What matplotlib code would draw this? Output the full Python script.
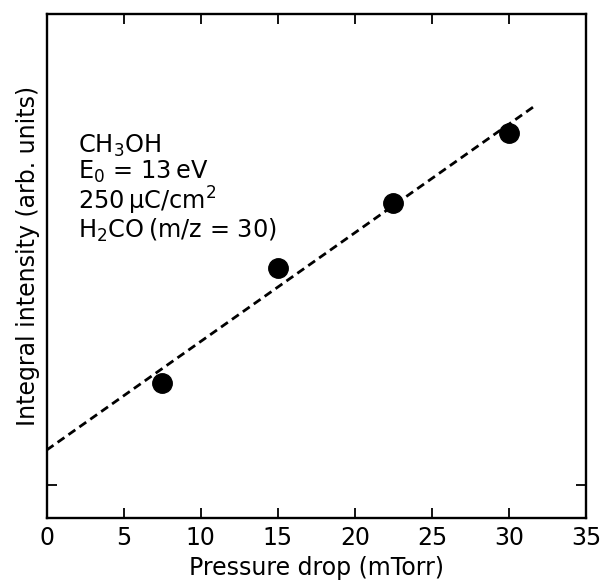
import numpy as np
import matplotlib
matplotlib.use("Agg")
import matplotlib.pyplot as plt

# data (y in arbitrary units)
pressure = [7.5, 15, 22.5, 30]
intensity = [1.02, 2.17, 2.82, 3.52]
fit_x = [0, 31.8]

plt.rcParams['font.family'] = 'DejaVu Sans'
plt.rcParams['mathtext.fontset'] = 'dejavusans'

fig = plt.figure(figsize=(6.04, 5.88), dpi=100)
ax = fig.add_axes([0.0773, 0.119, 0.893, 0.857])

# linear fit through the points
slope, icpt = np.polyfit(pressure, intensity, 1)
fx = np.array(fit_x)
ax.plot(fx, slope * fx + icpt, 'k', ls=(0, (3, 1.8)), lw=2.0)
ax.plot(pressure, intensity, 'o', color='k', ms=14, mec='k')

ax.set_xlim(0, 35)
ax.set_ylim(-0.335, 4.705)
ax.set_xticks(np.arange(0, 36, 5))
ax.set_yticks([0])
ax.set_yticklabels([])
ax.tick_params(direction='in', top=True, right=True, length=7, width=1.3,
               labelsize=17, pad=6)
for s in ax.spines.values():
    s.set_linewidth(1.7)

ax.set_xlabel('Pressure drop (mTorr)', fontsize=17, labelpad=4)
ax.set_ylabel('Integral intensity (arb. units)', fontsize=17)
ax.yaxis.set_label_coords(-0.013, 0.52)

txt = ('CH$_3$OH\n'
       'E$_0$ = 13\u2009eV\n'
       '250\u2009µC/cm$^2$\n'
       'H$_2$CO\u2009(m/z = 30)')
ax.text(0.058, 0.765, txt, transform=ax.transAxes, fontsize=17.3, va='top',
        ha='left', linespacing=1.0)

fig.savefig('out.png', dpi=100)
